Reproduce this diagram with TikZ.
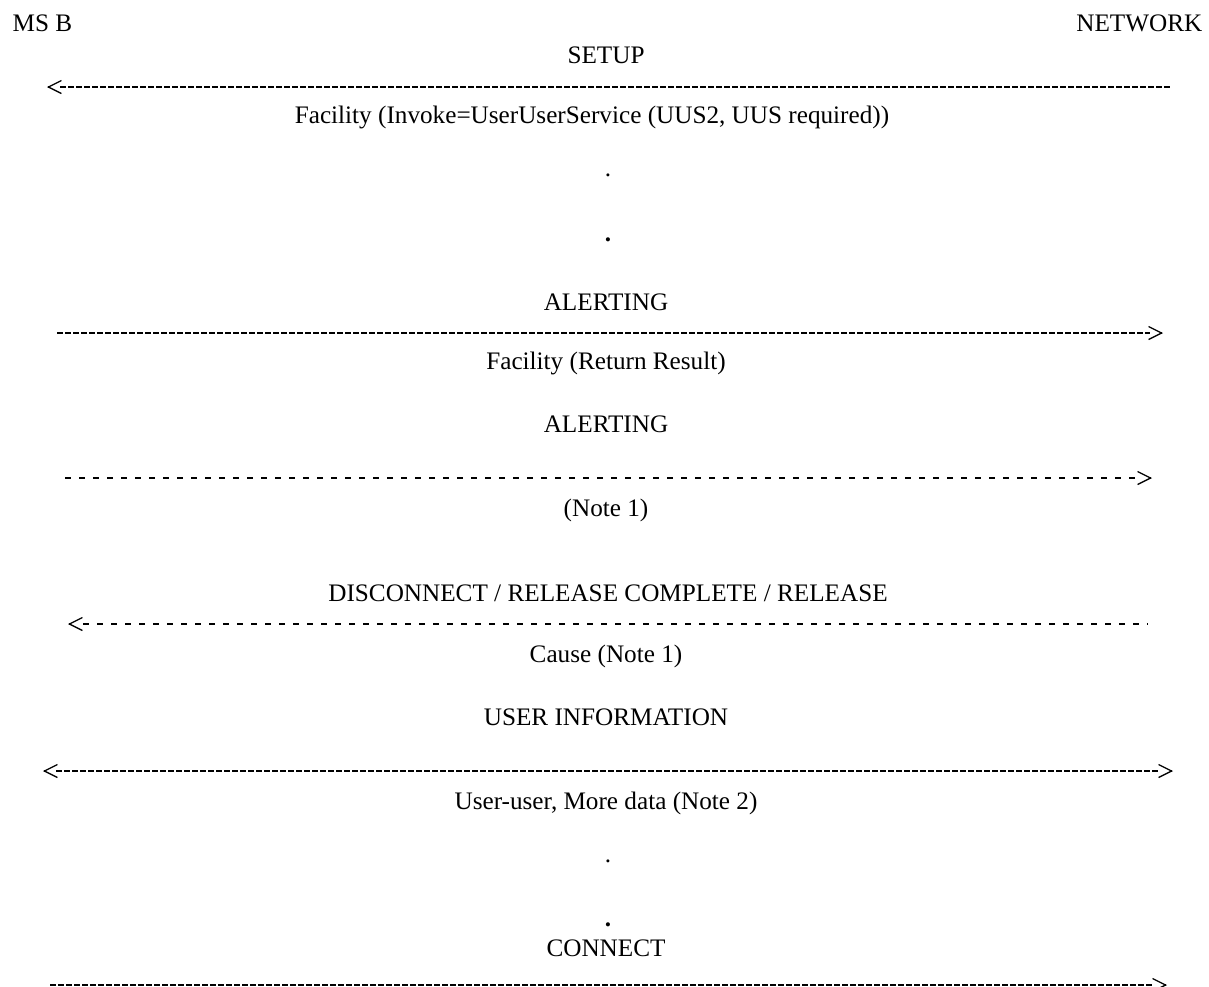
\documentclass[tikz,border=0pt]{standalone}
\usepackage{fontspec}
\setmainfont{Liberation Serif}
\usetikzlibrary{arrows.meta}
\tikzset{>={Straight Barb[length=6.5pt,width=6.5pt]}}
\tikzset{
  msg/.style={anchor=base, inner sep=0pt, font=\fontsize{12.6}{15}\selectfont},
  bigdot/.style={msg, font=\fontsize{12.6}{15}\selectfont\bfseries},
  dense/.style={dash pattern=on 3pt off 1pt},
  sparse/.style={dash pattern=on 3pt off 4pt},
}

\begin{document}
\begin{tikzpicture}[x=0.5pt, y=-0.5pt, line width=0.65pt]

  \newcommand\X{606}
  \useasboundingbox (0,0) rectangle (1209,986);

  \node[msg, anchor=base west] (msb) at (12,31) {MS B};
  \node[msg, anchor=base east] (net) at (1203,31) {NETWORK};

  \node[msg] (setup) at (\X,63) {SETUP};
  \coordinate (setupL) at (47,87);
  \coordinate (setupR) at (1170,87);
  \draw[dense, shorten <=6.5pt] (setupL) -- (setupR);
  \draw[<-] (setupL) -- +(1,0);
  \node[msg] (fac) at (592,123) {Facility (Invoke=UserUserService (UUS2, UUS required))};

  \node[msg] (dotA) at (608,176) {.};
  \node[bigdot] (dotB) at (608,241) {.};

  \node[msg] (alert) at (\X,310) {ALERTING};
  \coordinate (alertL) at (57,333);
  \coordinate (alertR) at (1163,333);
  \draw[dense, shorten >=6.5pt] (alertL) -- (alertR);
  \draw[->] (alertR) ++(-1,0) -- (alertR);
  \node[msg] (ret) at (\X,369) {Facility (Return Result)};

  \node[msg] (alertB) at (\X,432) {ALERTING};
  \coordinate (alertBL) at (65,478);
  \coordinate (alertBR) at (1152,478);
  \draw[sparse, shorten >=6.5pt] (alertBL) -- (alertBR);
  \draw[->] (alertBR) ++(-1,0) -- (alertBR);
  \node[msg] (noteA) at (\X,516) {(Note 1)};

  \node[msg] (disc) at (608,601) {DISCONNECT / RELEASE COMPLETE / RELEASE};
  \coordinate (discL) at (68,624);
  \coordinate (discR) at (1148,624);
  \draw[sparse, shorten <=7.5pt] (discL) -- (discR);
  \draw[<-] (discL) -- +(1,0);
  \node[msg] (cause) at (\X,662) {Cause (Note 1)};

  \node[msg] (uinfo) at (\X,725) {USER INFORMATION};
  \coordinate (uinfoL) at (43,771);
  \coordinate (uinfoR) at (1173,771);
  \draw[dense, shorten <=6.5pt, shorten >=6.5pt] (uinfoL) -- (uinfoR);
  \draw[<-] (uinfoL) -- +(1,0);
  \draw[->] (uinfoR) ++(-1,0) -- (uinfoR);
  \node[msg] (udata) at (\X,809) {User-user, More data (Note 2)};

  \node[msg] (dotC) at (608,862) {.};
  \node[bigdot] (dotD) at (608,926) {.};

  \node[msg] (conn) at (\X,956) {CONNECT};
  \coordinate (connL) at (50,985);
  \coordinate (connR) at (1167,985);
  \draw[dense, shorten >=6.5pt] (connL) -- (connR);
  \draw[->] (connR) ++(-1,0) -- (connR);

\end{tikzpicture}
\end{document}
